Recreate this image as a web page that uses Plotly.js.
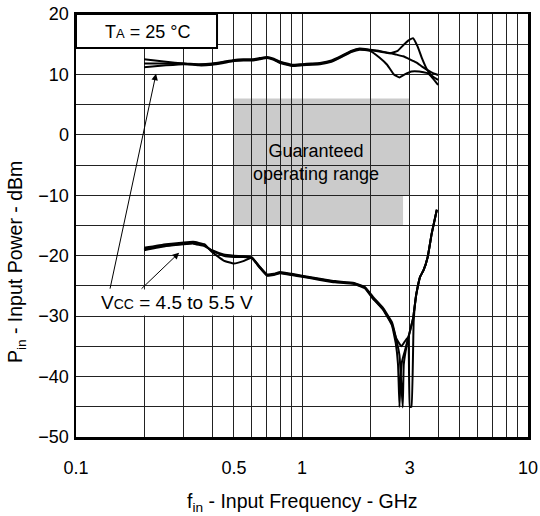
<!DOCTYPE html>
<html>
<head>
<meta charset="utf-8">
<script src="https://cdn.plot.ly/plotly-3.0.1.min.js"></script>
<style>html,body{margin:0;padding:0;background:#fff}#chart{width:540px;height:516px}</style>
</head>
<body>
<div id="chart"></div>
<script>
// ---- data ----
var xTickVals = [0.1, 0.5, 1, 3, 10];
var xTickText = ['0.1', '0.5', '1', '3', '10'];
var xMinorVals = [0.2,0.3,0.4,0.5,0.6,0.7,0.8,0.9,2,3,4,5,6,7,8,9];
var yTickVals = [-50,-40,-30,-20,-10,0,10,20];
var yMinorVals = [-45,-35,-25,-15,-5,5,15];

// upper group (Pin max), GHz / dBm
var upAFreq = [0.2,0.25,0.3,0.35,0.4,0.45,0.5,0.55,0.6,0.65,0.7,0.75,0.8,0.9,1.0,1.1,1.2,1.35,1.5,1.65,1.8,2.0,2.2,2.45,2.65,2.8,2.95,3.1,3.25,3.4,3.6,3.8,4.0];
var upAPow  = [11.2,11.5,11.7,11.6,11.7,12.0,12.3,12.4,12.4,12.6,12.8,12.5,12.0,11.5,11.6,11.7,11.8,12.2,13.0,13.8,14.2,14.0,13.8,13.5,13.9,14.8,15.6,16.0,14.6,12.6,10.6,9.6,9.1];
var upBFreq = [0.2,0.25,0.3,0.35,0.4,0.45,0.5,0.55,0.6,0.65,0.7,0.75,0.8,0.9,1.0,1.1,1.2,1.35,1.5,1.65,1.8,2.0,2.2,2.4,2.6,2.8,3.0,3.2,3.4,3.6,3.8,4.0];
var upBPow  = [11.8,11.8,11.8,11.7,11.8,12.1,12.4,12.5,12.5,12.7,12.9,12.6,12.1,11.6,11.7,11.8,11.9,12.3,13.1,13.9,14.3,14.1,13.9,13.6,13.3,13.0,12.5,12.0,11.3,10.7,10.2,9.9];
var upCFreq = [0.2,0.25,0.3,0.35,0.4,0.45,0.5,0.55,0.6,0.65,0.7,0.75,0.8,0.9,1.0,1.1,1.2,1.35,1.5,1.65,1.8,2.0,2.2,2.38,2.55,2.7,2.85,3.05,3.3,3.6,3.8,4.0];
var upCPow  = [12.5,12.1,11.8,11.5,11.6,11.9,12.2,12.3,12.3,12.5,12.7,12.4,11.9,11.4,11.5,11.6,11.7,12.1,12.9,13.7,14.1,13.9,12.8,11.6,10.0,9.5,10.0,10.5,10.5,10.2,9.3,8.25];

// lower group (Pin min), GHz / dBm
var loAFreq = [0.2,0.25,0.3,0.33,0.37,0.4,0.45,0.5,0.55,0.6,0.65,0.7,0.75,0.8,0.9,1.0,1.2,1.4,1.7,1.9,2.06,2.29,2.5,2.6,2.66,2.70,2.73,2.77,2.85,2.98,3.1,3.2,3.33,3.45,3.6,3.75,3.95];
var loAPow  = [-18.9,-18.3,-18.0,-17.9,-18.3,-19.2,-20.0,-20.2,-20.2,-20.4,-22.0,-23.3,-23.2,-22.9,-23.2,-23.5,-24.0,-24.4,-24.7,-25.4,-27.1,-29.0,-31.5,-34.5,-38.0,-45.0,-40.0,-37.5,-35.8,-33.0,-30.4,-26.5,-23.5,-22.4,-20.2,-16.3,-12.4];
var loBFreq = [0.2,0.25,0.3,0.33,0.37,0.4,0.45,0.5,0.55,0.6,0.65,0.7,0.75,0.8,0.9,1.0,1.2,1.4,1.7,1.9,2.06,2.29,2.5,2.6,2.7,2.79,2.82,2.9,2.98,3.1,3.2,3.33,3.45,3.6,3.75,3.95];
var loBPow  = [-18.7,-18.1,-17.8,-17.7,-18.1,-19.4,-20.8,-21.3,-20.9,-20.3,-21.8,-23.1,-23.0,-22.7,-23.0,-23.3,-23.8,-24.2,-24.5,-25.2,-26.8,-28.7,-31.0,-33.5,-36.5,-45.1,-38.0,-35.0,-33.0,-30.4,-26.5,-23.5,-22.4,-20.2,-16.3,-12.4];
var loCFreq = [0.2,0.25,0.3,0.33,0.37,0.4,0.45,0.5,0.55,0.6,0.65,0.7,0.75,0.8,0.9,1.0,1.2,1.4,1.7,1.9,2.06,2.29,2.5,2.6,2.75,2.85,2.95,3.0,3.05,3.12,3.2,3.33,3.45,3.6,3.75,3.95];
var loCPow  = [-19.1,-18.4,-18.1,-18.0,-18.4,-19.1,-19.8,-20.0,-20.1,-20.3,-21.9,-23.2,-23.1,-22.8,-23.1,-23.4,-23.9,-24.3,-24.6,-25.3,-27.0,-28.9,-31.3,-33.5,-35.0,-34.2,-33.5,-45.0,-45.0,-30.8,-26.5,-23.5,-22.4,-20.2,-16.3,-12.4];

// guaranteed operating range (GHz, dBm)
var rangeFreq = [0.5, 3.0, 2.8];
var rangePow  = [6, -10, -15];

// ---- helpers ----
function px(f){ return (Math.log10(f) + 1) / 2; }
var FONT = 'Liberation Sans, Arial, Helvetica, sans-serif';

function curve(x, y){
  return {x:x, y:y, type:'scatter', mode:'lines', line:{color:'#000', width:2, shape:'spline', smoothing:0.3}, hoverinfo:'skip', showlegend:false};
}

var traces = [
  curve(upAFreq, upAPow), curve(upBFreq, upBPow), curve(upCFreq, upCPow),
  curve(loAFreq, loAPow), curve(loBFreq, loBPow), curve(loCFreq, loCPow)
];

var layout = {
  width:540, height:516,
  margin:{l:76, r:12, t:14, b:79},
  paper_bgcolor:'#fff', plot_bgcolor:'#fff',
  font:{family:FONT, color:'#000', size:18},
  showlegend:false,
  xaxis:{
    type:'log', range:[-1,1],
    tickmode:'array', tickvals:xTickVals, ticktext:xTickText,
    showgrid:true, gridcolor:'#222', gridwidth:1,
    minor:{tickmode:'array', tickvals:xMinorVals, showgrid:true, gridcolor:'#222', gridwidth:1, ticks:''},
    ticks:'', ticklabelstandoff:13,
    showline:true, mirror:true, linecolor:'#000', linewidth:2.5,
    zeroline:false, tickfont:{size:18, family:FONT}
  },
  yaxis:{
    range:[-50,20],
    tickmode:'array', tickvals:yTickVals,
    showgrid:true, gridcolor:'#222', gridwidth:1,
    minor:{tickmode:'array', tickvals:yMinorVals, showgrid:true, gridcolor:'#222', gridwidth:1, ticks:''},
    ticks:'', ticklabelstandoff:1,
    showline:true, mirror:true, linecolor:'#000', linewidth:2.5,
    zeroline:false, tickfont:{size:18, family:FONT}
  },
  shapes:[
    {type:'rect', layer:'below', xref:'paper', yref:'y', x0:px(rangeFreq[0]), x1:px(rangeFreq[1]), y0:rangePow[1], y1:rangePow[0], fillcolor:'#cbcbcb', line:{width:0}},
    {type:'rect', layer:'below', xref:'paper', yref:'y', x0:px(rangeFreq[0]), x1:px(rangeFreq[2]), y0:rangePow[2], y1:rangePow[1], fillcolor:'#cbcbcb', line:{width:0}},
    {type:'rect', layer:'above', xref:'paper', yref:'paper', x0:0, x1:0.312, y0:0.9196, y1:1, fillcolor:'#fff', line:{color:'#000', width:2}}
  ],
  annotations:[
    {xref:'paper', yref:'paper', x:0.158, y:0.9586, text:'T<span style="font-size:13px">A</span> = 25 °C', showarrow:false, font:{size:18, family:FONT}, xanchor:'center', yanchor:'middle'},
    {xref:'paper', yref:'paper', x:0.531, y:0.648, text:'Guaranteed<br>operating range', showarrow:false, align:'center', font:{size:18, family:FONT}, xanchor:'center', yanchor:'middle'},
    {xref:'paper', yref:'paper', x:0.2235, y:0.319, text:'V<span style="font-size:14px">CC</span> = 4.5 to 5.5 V', showarrow:false, bgcolor:'#fff', font:{size:19, family:FONT}, xanchor:'center', yanchor:'middle', borderpad:2},
    {xref:'x', yref:'y', x:Math.log10(0.226), y:10.1, axref:'x', ayref:'y', ax:Math.log10(0.141), ay:-25.7, text:'', showarrow:true, arrowhead:2, arrowsize:1.3, arrowwidth:1, arrowcolor:'#000', standoff:0, startstandoff:0},
    {xref:'x', yref:'y', x:Math.log10(0.286), y:-19.5, axref:'x', ayref:'y', ax:Math.log10(0.192), ay:-25.7, text:'', showarrow:true, arrowhead:2, arrowsize:1.3, arrowwidth:1, arrowcolor:'#000', standoff:0, startstandoff:0},
    {xref:'paper', yref:'paper', x:0.5, y:-0.154, text:'f<sub>in</sub> - Input Frequency - GHz', showarrow:false, font:{size:19.5, family:FONT}, xanchor:'center', yanchor:'middle'},
    {xref:'paper', yref:'paper', x:-0.13, y:0.414, text:'P<sub>in</sub> - Input Power - dBm', textangle:-90, showarrow:false, font:{size:19.5, family:FONT}, xanchor:'center', yanchor:'middle'}
  ]
};

Plotly.newPlot('chart', traces, layout, {staticPlot:true, displayModeBar:false});
</script>
</body>
</html>
